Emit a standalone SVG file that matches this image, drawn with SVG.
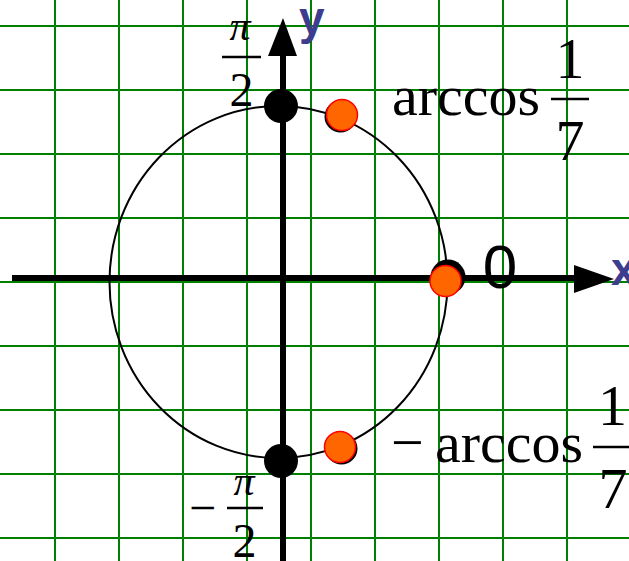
<svg xmlns="http://www.w3.org/2000/svg" width="629" height="561" viewBox="0 0 629 561">
<style>
.grid line{stroke:#008000;stroke-width:2}
.axis{stroke:#000;stroke-width:6}
.serif{font-family:"Liberation Serif","Times New Roman",serif;fill:#000}
.axlbl{font-family:"Liberation Sans",Arial,sans-serif;font-weight:bold;fill:#3D3D8F}
.bar{stroke:#000;stroke-width:2.5}
.orange{fill:#FF6600;stroke:#FF0000;stroke-width:1.5}
</style>
<rect width="629" height="561" fill="#fff"/>
<g id="grid" class="grid">
<line x1="55" y1="0" x2="55" y2="561"/>
<line x1="119" y1="0" x2="119" y2="561"/>
<line x1="183" y1="0" x2="183" y2="561"/>
<line x1="247" y1="0" x2="247" y2="561"/>
<line x1="311" y1="0" x2="311" y2="561"/>
<line x1="375" y1="0" x2="375" y2="561"/>
<line x1="439" y1="0" x2="439" y2="561"/>
<line x1="503" y1="0" x2="503" y2="561"/>
<line x1="567" y1="0" x2="567" y2="561"/>
<line x1="0" y1="26" x2="629" y2="26"/>
<line x1="0" y1="90" x2="629" y2="90"/>
<line x1="0" y1="154" x2="629" y2="154"/>
<line x1="0" y1="218" x2="629" y2="218"/>
<line x1="0" y1="282" x2="629" y2="282"/>
<line x1="0" y1="346" x2="629" y2="346"/>
<line x1="0" y1="410" x2="629" y2="410"/>
<line x1="0" y1="474" x2="629" y2="474"/>
<line x1="0" y1="538" x2="629" y2="538"/>
</g>
<g id="circle">
<ellipse cx="278.5" cy="282" rx="169" ry="176" fill="none" stroke="#000" stroke-width="2"/>
</g>
<g id="connectors">
<line class="axis" x1="12" y1="278" x2="578" y2="278"/>
<polygon points="614,279 574,265 574,293" fill="#000"/>
<line class="axis" x1="283" y1="561" x2="283" y2="52"/>
<polygon points="283,18 268,56 297,56" fill="#000"/>
</g>
<g id="axis-labels">
<text class="axlbl" x="299" y="34" font-size="46">y</text>
<text class="axlbl" x="611" y="285" font-size="46">x</text>
</g>
<g id="point-pi-half">
<circle cx="281" cy="106" r="17" fill="#000"/>
<text class="serif" x="240" y="40" font-size="42" font-style="italic" text-anchor="middle">π</text>
<line class="bar" x1="222" y1="57" x2="261" y2="57"/>
<text class="serif" x="241.5" y="106" font-size="48" text-anchor="middle">2</text>
</g>
<g id="point-minus-pi-half">
<circle cx="281" cy="461" r="17" fill="#000"/>
<text class="serif" x="189" y="524" font-size="48">−</text>
<text class="serif" x="244" y="495" font-size="42" font-style="italic" text-anchor="middle">π</text>
<line class="bar" x1="227" y1="508" x2="263" y2="508"/>
<text class="serif" x="244.5" y="557" font-size="48" text-anchor="middle">2</text>
</g>
<g id="point-zero">
<circle cx="448" cy="277" r="17.5" fill="#000"/>
<circle class="orange" cx="445.5" cy="281" r="15.5"/>
<text x="500" y="288" font-family="'Liberation Sans',Arial,sans-serif" font-size="62" text-anchor="middle" fill="#000">0</text>
</g>
<g id="point-arccos">
<circle cx="340.5" cy="116.5" r="16" fill="#000"/>
<circle class="orange" cx="342" cy="115" r="15.5"/>
<text class="serif" x="392" y="115" font-size="58">arccos</text>
<line class="bar" x1="551" y1="99" x2="589" y2="99"/>
<text class="serif" x="570" y="78" font-size="58" text-anchor="middle">1</text>
<text class="serif" x="570" y="160" font-size="58" text-anchor="middle">7</text>
</g>
<g id="point-minus-arccos">
<circle cx="341.5" cy="448.5" r="16" fill="#000"/>
<circle class="orange" cx="340" cy="447" r="15.5"/>
<text class="serif" x="391" y="462" font-size="58">−</text>
<text class="serif" x="435" y="462" font-size="58">arccos</text>
<line class="bar" x1="593" y1="447" x2="632" y2="447"/>
<text class="serif" x="612.5" y="425" font-size="58" text-anchor="middle">1</text>
<text class="serif" x="613" y="508" font-size="58" text-anchor="middle">7</text>
</g>
</svg>
